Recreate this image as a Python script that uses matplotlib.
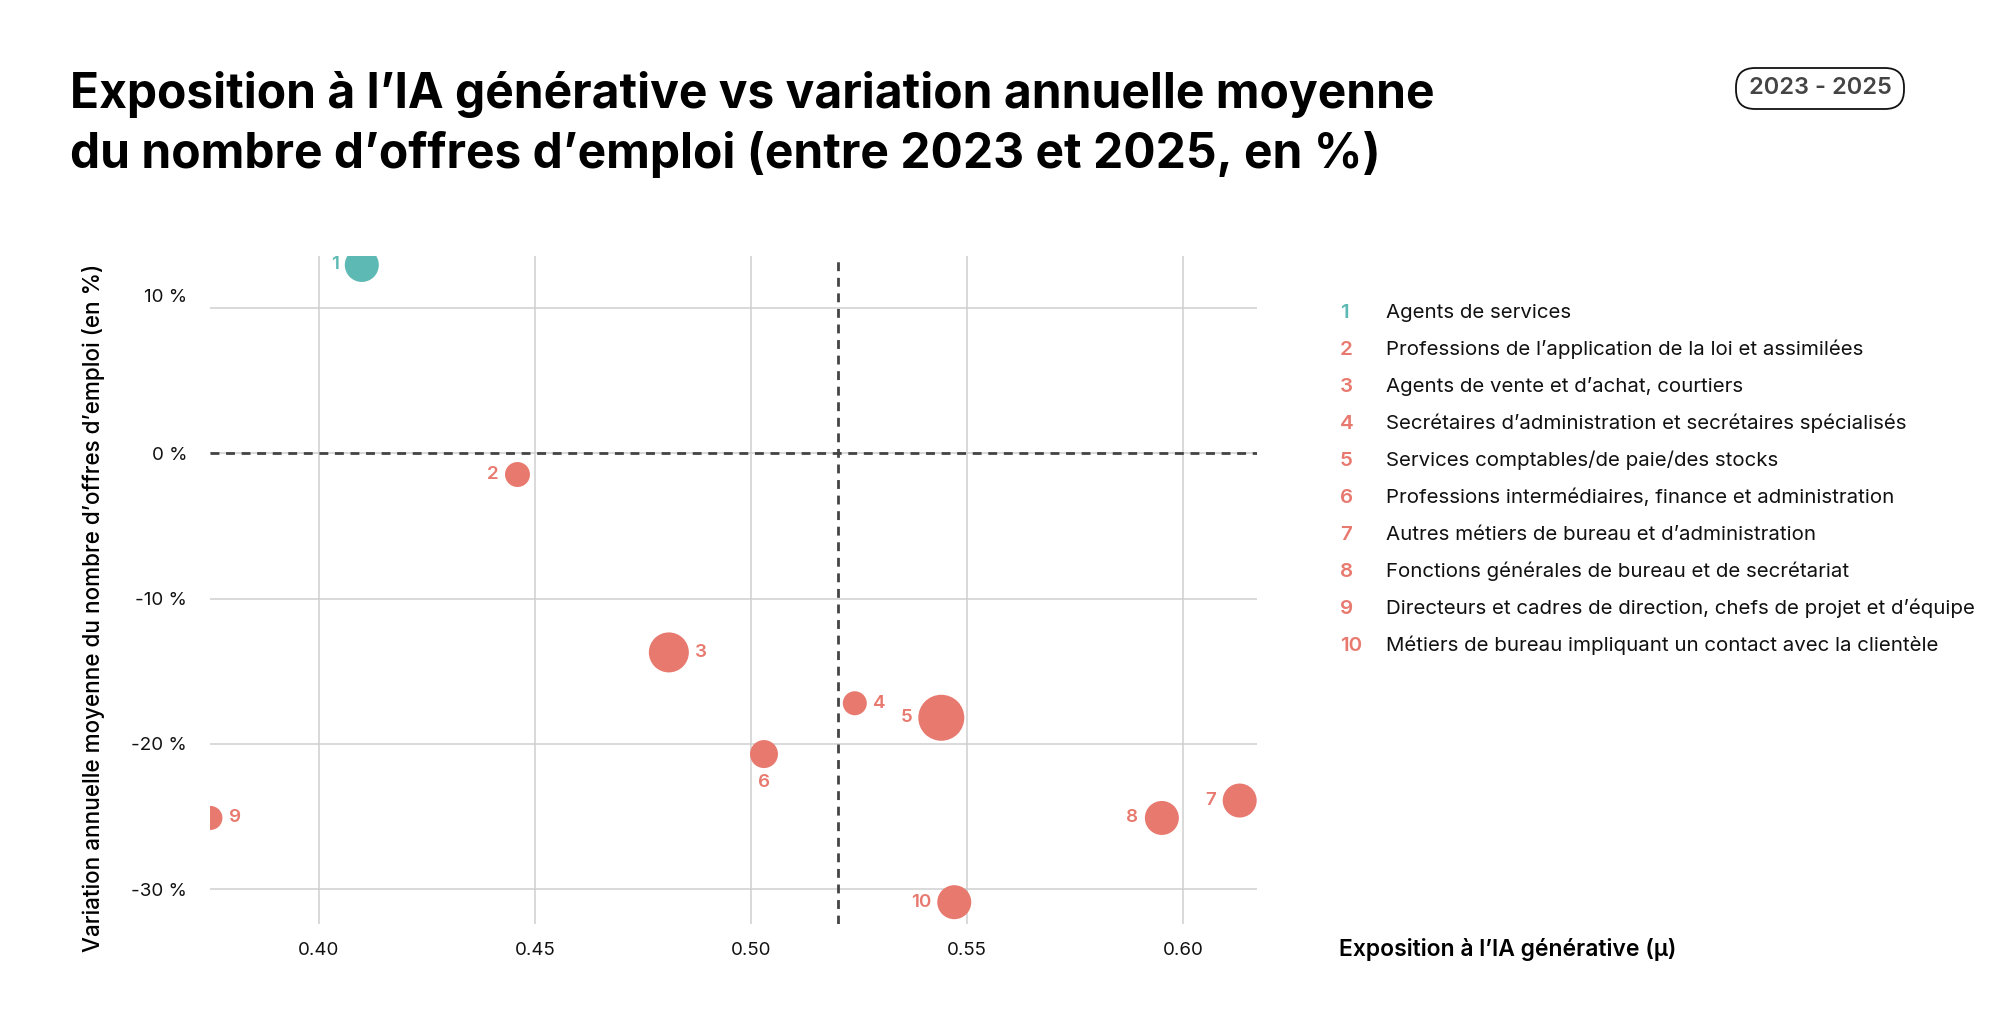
import matplotlib
matplotlib.use("Agg")
import matplotlib.pyplot as plt
from matplotlib.patches import FancyBboxPatch

plt.rcParams['font.family'] = ['Inter', 'DejaVu Sans']

# donnees
numeros = [1, 2, 3, 4, 5, 6, 7, 8, 9, 10]
metiers = [
    "Agents de services",
    "Professions de l\u2019application de la loi et assimil\u00e9es",
    "Agents de vente et d\u2019achat, courtiers",
    "Secr\u00e9taires d\u2019administration et secr\u00e9taires sp\u00e9cialis\u00e9s",
    "Services comptables/de paie/des stocks",
    "Professions interm\u00e9diaires, finance et administration",
    "Autres m\u00e9tiers de bureau et d\u2019administration",
    "Fonctions g\u00e9n\u00e9rales de bureau et de secr\u00e9tariat",
    "Directeurs et cadres de direction, chefs de projet et d\u2019\u00e9quipe",
    "M\u00e9tiers de bureau impliquant un contact avec la client\u00e8le",
]
exposition = [0.410, 0.446, 0.481, 0.524, 0.544, 0.503, 0.613, 0.595, 0.375, 0.547]
variation = [12.98, -1.45, -13.7, -17.2, -18.2, -20.7, -23.9, -25.1, -25.1, -30.9]
poids = [289, 156, 400, 144, 529, 196, 289, 289, 144, 289]
x_ticks = [0.40, 0.45, 0.50, 0.55, 0.60]
y_ticks = [10, 0, -10, -20, -30]
seuil_x = 0.52

TEAL = '#5DB9B3'
CORAIL = '#E8796F'
couleurs = [TEAL if v > 0 else CORAIL for v in variation]
cote = ['left', 'left', 'right', 'right', 'left', 'below', 'left', 'left', 'right', 'left']

fig = plt.figure(figsize=(20, 10.23), dpi=100)
ax = fig.add_axes([0.105, 0.0968, 0.5235, 0.653])

ax.set_xlim(0.3749, 0.617)
ax.set_ylim(-32.4, 13.6)
ax.set_xticks(x_ticks)
ax.set_yticks(y_ticks)
ax.set_xticklabels([f"{t:.2f}" for t in x_ticks])
# le libelle "10 %" est un peu decale vers le haut sur l'original
ax.set_yticklabels(['' if t == 10 else f"{t} %" for t in y_ticks])
ax.annotate("10 %", xy=(0, 10), xycoords=('axes fraction', 'data'), xytext=(-16.5, 8),
            textcoords='offset points', ha='right', va='center', fontsize=13.5, color='#111111')
ax.tick_params(length=0, labelsize=13.5, colors='#111111')
ax.tick_params(axis='x', pad=13)
ax.tick_params(axis='y', pad=16.5)
for s in ax.spines.values():
    s.set_visible(False)
ax.grid(True, color='#CFCFCF', lw=1.1)
ax.set_axisbelow(True)

ax.axhline(0, color='#444444', lw=2.0, ls=(0, (3.2, 2.4)), zorder=2)
ax.axvline(seuil_x, color='#444444', lw=2.0, ls=(0, (3.2, 2.4)), zorder=2)

tailles = [p * 2.0736 for p in poids]
ax.scatter(exposition, variation, s=tailles, c=couleurs, lw=0, zorder=3)

for n, x, y, p, c, sd in zip(numeros, exposition, variation, poids, couleurs, cote):
    r = p ** 0.5 * 0.72
    if sd == 'left':
        off, ha, va = (-(r + 4.5), 0), 'right', 'center'
    elif sd == 'right':
        off, ha, va = (r + 4.5, 0), 'left', 'center'
    else:
        off, ha, va = (0, -(r + 4.5)), 'center', 'top'
    ax.annotate(str(n), (x, y), xytext=off, textcoords='offset points',
                ha=ha, va=va, color=c, fontsize=13.5, fontweight='semibold', zorder=4)

# titres
fig.text(0.035, 1 - 108 / 1023, "Exposition \u00e0 l\u2019IA g\u00e9n\u00e9rative vs variation annuelle moyenne",
         fontsize=34.5, fontweight='bold', va='baseline', ha='left')
fig.text(0.035, 1 - 168 / 1023, "du nombre d\u2019offres d\u2019emploi (entre 2023 et 2025, en %)",
         fontsize=34.5, fontweight='bold', va='baseline', ha='left')

# badge periode (axes en pixels)
axb = fig.add_axes([1735 / 2000, 1 - 110 / 1023, 170 / 2000, 43 / 1023])
axb.set_xlim(0, 170)
axb.set_ylim(0, 43)
axb.axis('off')
axb.add_patch(FancyBboxPatch((1, 1), 168, 41, boxstyle='round,pad=0,rounding_size=19',
                             fc='white', ec='#111111', lw=1.3))
axb.text(85, 21.5, "2023 - 2025", ha='center', va='center',
         fontsize=17, fontweight='semibold', color='#444444')

# libelles des axes
fig.text(94 / 2000, 1 - 608 / 1023,
         "Variation annuelle moyenne du nombre d\u2019offres d\u2019emploi (en %)",
         rotation=90, ha='center', va='center', fontsize=16.2, fontweight='medium')
fig.text(1339 / 2000, 1 - 956 / 1023, "Exposition \u00e0 l\u2019IA g\u00e9n\u00e9rative (\u03bc)",
         ha='left', va='baseline', fontsize=16.5, fontweight='semibold')

# legende
for i, (n, m, c) in enumerate(zip(numeros, metiers, couleurs)):
    yb = 1 - (318 + i * 36.97) / 1023
    fig.text(1340 / 2000, yb, str(n), color=c, fontsize=14.8, fontweight='semibold', va='baseline')
    fig.text(1386 / 2000, yb, m, color='#111111', fontsize=14.75, va='baseline')

fig.savefig("out.png", dpi=100, facecolor='white')
